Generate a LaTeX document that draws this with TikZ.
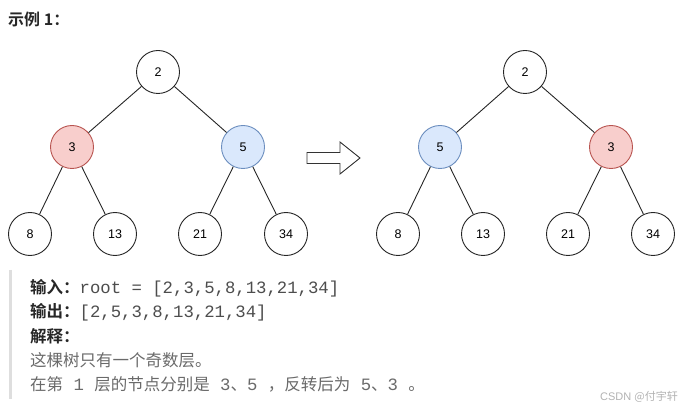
\documentclass[tikz,border=0pt]{standalone}
\usepackage{fontspec}
\setmainfont{Liberation Sans}
\setmonofont{Liberation Mono}
\newfontfamily\cjk{Noto Sans CJK SC}[BoldFont={Noto Sans CJK SC Bold}]

\definecolor{oddred}{HTML}{F8CECC}
\definecolor{oddredline}{HTML}{B85450}
\definecolor{oddblue}{HTML}{DAE8FC}
\definecolor{oddblueline}{HTML}{6C8EBF}
\definecolor{labeltext}{HTML}{262626}
\definecolor{codetext}{HTML}{4D4D4D}
\definecolor{notetext}{HTML}{6A6A6A}

\newcommand{\codefont}{\fontsize{17.3}{18}\selectfont\ttfamily}

\tikzset{
  treenode/.style={draw=black!85, circle, line width=0.9pt, fill=white,
    minimum size=43pt, inner sep=0pt, font=\fontsize{12.5}{14}\selectfont},
  rednode/.style={treenode, draw=oddredline, fill=oddred},
  bluenode/.style={treenode, draw=oddblueline, fill=oddblue},
  treeedge/.style={draw=black!85, line width=0.9pt},
  textline/.style={anchor=west, inner sep=0pt, font=\fontsize{16.5}{18}\selectfont}
}

\begin{document}
\begin{tikzpicture}[x=1pt, y=-1pt]
    \useasboundingbox (0, 0) rectangle (695, 411);

    \node[anchor=west, inner sep=0pt, text=labeltext]
      (title) at (8, 19) {\fontsize{16}{18}\selectfont\cjk\bfseries 示例 1：};

    % Tree before the swap
    \node[treenode] (L2) at (158, 72) {2};
    \node[rednode]  (L3) at (72, 147) {3};
    \node[bluenode] (L5) at (243, 147) {5};
    \node[treenode] (L8) at (30, 234) {8};
    \node[treenode] (L13) at (115, 234) {13};
    \node[treenode] (L21) at (200, 234) {21};
    \node[treenode] (L34) at (286, 234) {34};

    \draw[treeedge] (L2) -- (L3);
    \draw[treeedge] (L2) -- (L5);
    \draw[treeedge] (L3) -- (L8);
    \draw[treeedge] (L3) -- (L13);
    \draw[treeedge] (L5) -- (L21);
    \draw[treeedge] (L5) -- (L34);

    % Tree after the swap
    \node[treenode] (R2) at (525, 72) {2};
    \node[bluenode] (R5) at (440, 147) {5};
    \node[rednode]  (R3) at (611, 147) {3};
    \node[treenode] (R8) at (398, 234) {8};
    \node[treenode] (R13) at (483, 234) {13};
    \node[treenode] (R21) at (568, 234) {21};
    \node[treenode] (R34) at (653, 234) {34};

    \draw[treeedge] (R2) -- (R5);
    \draw[treeedge] (R2) -- (R3);
    \draw[treeedge] (R5) -- (R8);
    \draw[treeedge] (R5) -- (R13);
    \draw[treeedge] (R3) -- (R21);
    \draw[treeedge] (R3) -- (R34);

    % Block arrow between the trees
    \draw[draw=black!80, line width=0.9pt, fill=white]
      (307, 152.5) -- (340, 152.5) -- (340, 142) -- (360, 158)
      -- (340, 174) -- (340, 163.5) -- (307, 163.5) -- cycle;

    % Example text
    \draw[draw=black!13, line width=3pt] (10, 270) -- (10, 399);
    \node[textline] (input) at (30, 288)
      {{\cjk\bfseries\color{labeltext}输入：}{\codefont\color{codetext}root = [2,3,5,8,13,21,34]}};
    \node[textline] (output) at (30, 312)
      {{\cjk\bfseries\color{labeltext}输出：}{\codefont\color{codetext}[2,5,3,8,13,21,34]}};
    \node[textline, text=labeltext] (explain) at (30, 336)
      {\cjk\bfseries 解释：};
    \node[textline, text=notetext] (note1) at (30, 360)
      {\cjk 这棵树只有一个奇数层。};
    \node[textline, text=notetext] (note2) at (30, 384)
      {\cjk 在第{\codefont\ 1\ }层的节点分别是{\codefont\ 3}、{\codefont 5\ }，反转后为{\codefont\ 5}、{\codefont 3\ }。};

    \node[anchor=west, inner sep=0pt, text=black!30,
      font=\fontsize{11}{13}\selectfont] (mark) at (600, 397)
      {CSDN \cjk @付宇轩};
\end{tikzpicture}
\end{document}
